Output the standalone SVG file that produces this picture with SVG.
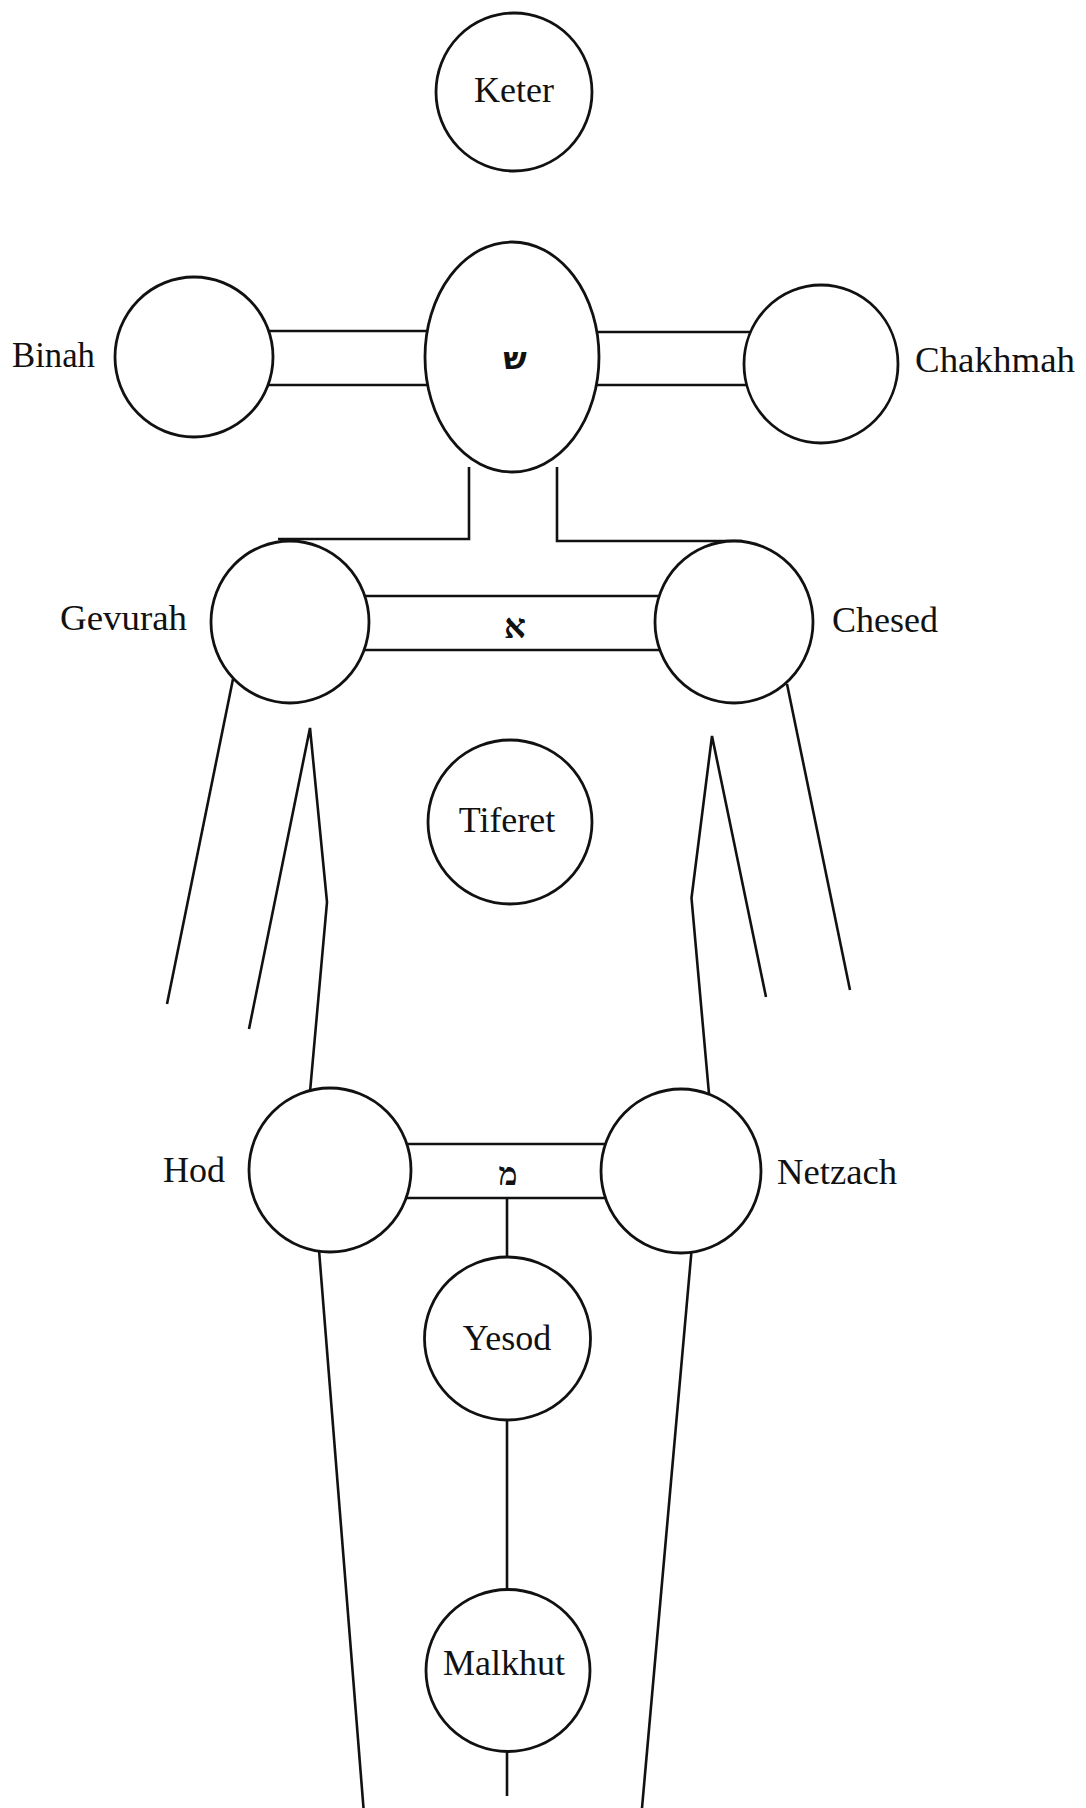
<svg xmlns="http://www.w3.org/2000/svg" width="1086" height="1808" viewBox="0 0 1086 1808">
<style>
  .c{fill:#fff;stroke:#111;stroke-width:2.8}
  .l{fill:none;stroke:#111;stroke-width:2.6;stroke-linejoin:miter}
  .t{font-family:"Liberation Serif","Times New Roman",serif;font-size:36px;fill:#111}
  .m{text-anchor:middle}
  .h{font-family:"Liberation Serif","DejaVu Sans","DejaVu Serif",serif;fill:#111;text-anchor:middle}
  .hs{font-family:"DejaVu Sans","Liberation Sans",sans-serif;fill:#111;text-anchor:middle}
</style>
<rect width="1086" height="1808" fill="#fff"/>
<g id="connectors">
  <line class="l" x1="250" y1="331" x2="440" y2="331"/>
  <line class="l" x1="250" y1="385" x2="440" y2="385"/>
  <line class="l" x1="590" y1="332" x2="760" y2="332"/>
  <line class="l" x1="590" y1="385" x2="760" y2="385"/>
  <polyline class="l" points="278,539 469,539 469,467"/>
  <polyline class="l" points="557,467 557,541 742,541"/>
  <line class="l" x1="350" y1="596" x2="670" y2="596"/>
  <line class="l" x1="350" y1="650" x2="670" y2="650"/>
  <line class="l" x1="233" y1="679" x2="167" y2="1004"/>
  <polyline class="l" points="249,1029 310,728 327,902 310,1092"/>
  <polyline class="l" points="766,997 712,736 691.5,898 709,1094"/>
  <line class="l" x1="787" y1="684" x2="850" y2="990"/>
  <line class="l" x1="395" y1="1144" x2="615" y2="1144"/>
  <line class="l" x1="395" y1="1198" x2="615" y2="1198"/>
  <line class="l" x1="507" y1="1198" x2="507" y2="1258"/>
  <line class="l" x1="507" y1="1420" x2="507" y2="1590"/>
  <line class="l" x1="507" y1="1752" x2="507" y2="1796"/>
  <line class="l" x1="319" y1="1250" x2="363.5" y2="1808"/>
  <line class="l" x1="691.5" y1="1251" x2="642" y2="1808"/>
</g>
<g id="keter">
  <ellipse class="c" cx="514" cy="92" rx="78" ry="79"/>
  <text class="t m" x="514" y="102">Keter</text>
</g>
<g id="shin">
  <ellipse class="c" cx="512" cy="357" rx="87" ry="115"/>
  <text class="hs" x="515" y="369" font-size="31" font-weight="bold">ש</text>
</g>
<g id="binah">
  <ellipse class="c" cx="194" cy="357" rx="79" ry="80"/>
  <text class="t" x="12" y="367" textLength="83" lengthAdjust="spacingAndGlyphs">Binah</text>
</g>
<g id="chakhmah">
  <ellipse class="c" cx="821" cy="364" rx="77" ry="79"/>
  <text class="t" x="915" y="372" textLength="160" lengthAdjust="spacingAndGlyphs">Chakhmah</text>
</g>
<g id="gevurah">
  <ellipse class="c" cx="290" cy="622" rx="79" ry="81"/>
  <text class="t" x="60" y="630" textLength="127" lengthAdjust="spacingAndGlyphs">Gevurah</text>
</g>
<g id="chesed">
  <ellipse class="c" cx="734" cy="622" rx="79" ry="81"/>
  <text class="t" x="832" y="632" textLength="106" lengthAdjust="spacingAndGlyphs">Chesed</text>
</g>
<g id="aleph">
  <text class="h" x="515" y="638" font-size="34" font-weight="bold">א</text>
</g>
<g id="tiferet">
  <ellipse class="c" cx="510" cy="822" rx="82" ry="82"/>
  <text class="t m" x="507" y="832">Tiferet</text>
</g>
<g id="hod">
  <ellipse class="c" cx="330" cy="1170" rx="81" ry="82"/>
  <text class="t" x="163" y="1182" textLength="62" lengthAdjust="spacingAndGlyphs">Hod</text>
</g>
<g id="netzach">
  <ellipse class="c" cx="681" cy="1171" rx="80" ry="82"/>
  <text class="t" x="777" y="1184" textLength="120" lengthAdjust="spacingAndGlyphs">Netzach</text>
</g>
<g id="mem">
  <text class="h" x="508" y="1185" font-size="32" font-weight="bold">מ</text>
</g>
<g id="yesod">
  <ellipse class="c" cx="507.5" cy="1338.5" rx="83" ry="81.5"/>
  <text class="t m" x="507" y="1350">Yesod</text>
</g>
<g id="malkhut">
  <ellipse class="c" cx="508" cy="1670.5" rx="82" ry="81"/>
  <text class="t m" x="504" y="1675">Malkhut</text>
</g>
</svg>
